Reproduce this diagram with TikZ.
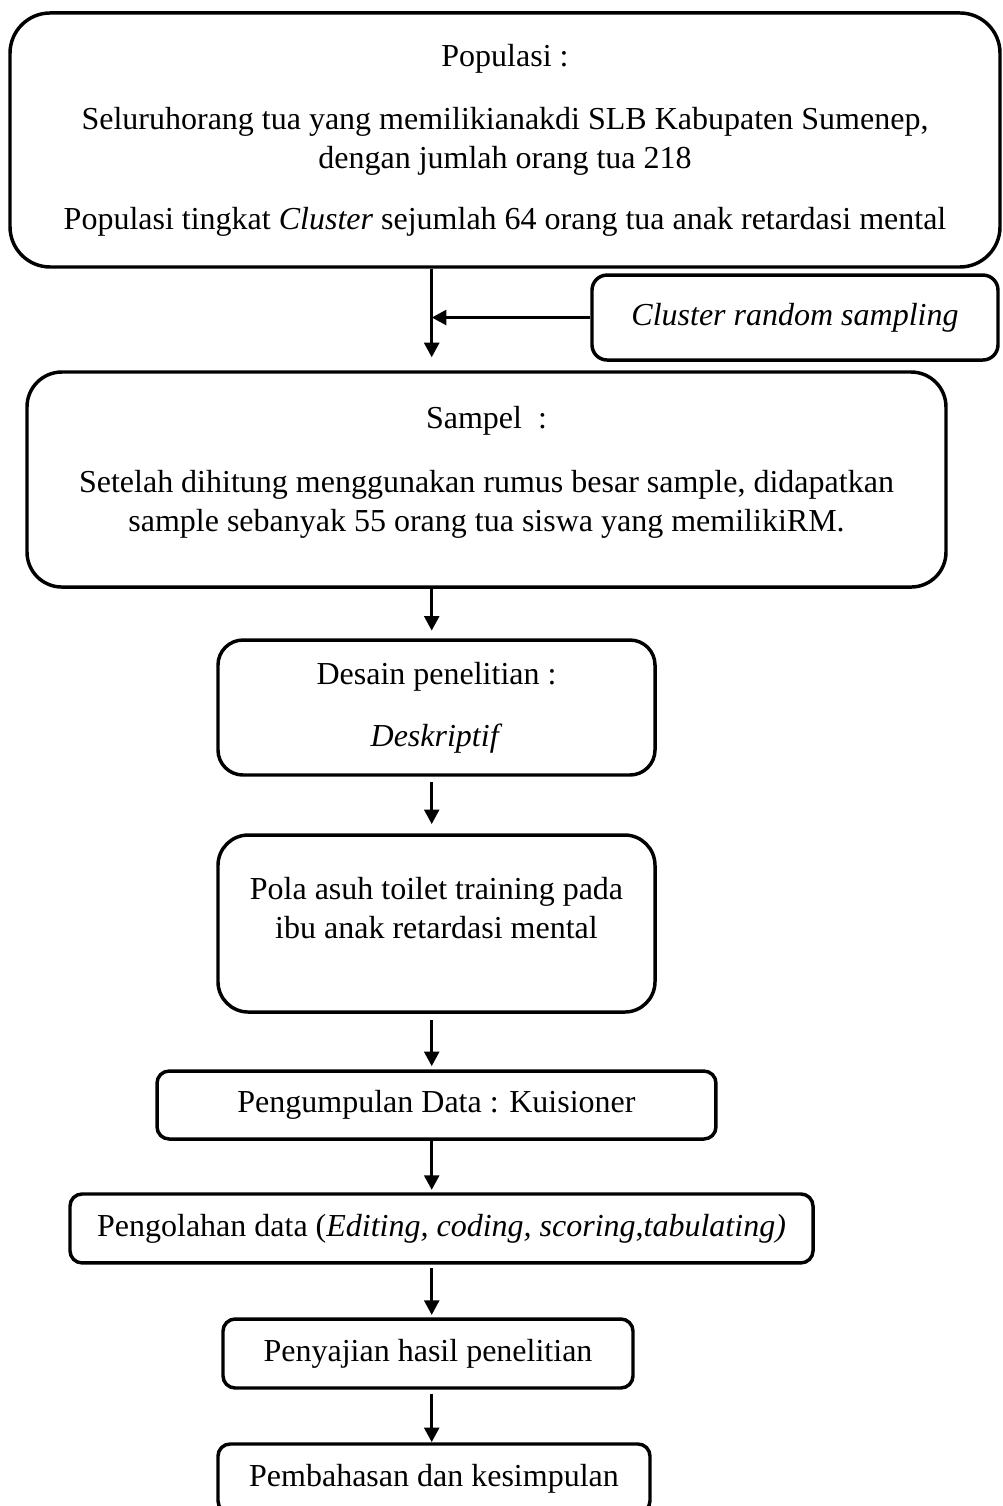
\documentclass[tikz,border=0pt]{standalone}
\usepackage{fontspec}
\setmainfont{Liberation Serif}
\usepackage{tikz}
\usetikzlibrary{arrows.meta, positioning}

\tikzset{
    box/.style={draw, line width=1.3pt, align=center, inner sep=0pt,
        font=\fontsize{12}{14.6}\selectfont},
    arr/.style={-{Triangle[length=5.5pt, width=5.5pt]}, line width=1.3pt}
}

\begin{document}
\begin{tikzpicture}
        % Page frame
        \clip (0,0) rectangle (13.219,-19.849);

        % Boxes
        \node[box, rounded corners=0.53cm, minimum width=13.048cm, minimum height=3.348cm] (pop) at (6.656,-1.845)
            {Populasi :\\[9pt]
             Seluruhorang tua yang memilikianakdi SLB Kabupaten Sumenep,\\
             dengan jumlah orang tua 218\\[8.3pt]
             Populasi tingkat \textit{Cluster} sejumlah 64 orang tua anak retardasi mental};
        \node[box, rounded corners=0.2cm, minimum width=5.351cm, minimum height=1.12cm] (clust) at (10.478,-4.185)
            {\textit{Cluster random sampling}};
        \node[box, rounded corners=0.46cm, minimum width=12.112cm, minimum height=2.834cm, text depth=8.3pt] (sampel) at (6.412,-6.32)
            {Sampel~ :\\[9.4pt]
             Setelah dihitung menggunakan rumus besar sample, didapatkan\\
             sample sebanyak 55 orang tua siswa yang memilikiRM.};
        \node[box, rounded corners=0.33cm, minimum width=5.76cm, minimum height=1.779cm] (desain) at (5.753,-9.325)
            {Desain penelitian :\\[8.6pt] \textit{Deskriptif}};
        \node[box, rounded corners=0.4cm, minimum width=5.76cm, minimum height=2.333cm, text depth=12pt] (pola) at (5.753,-12.172)
            {Pola asuh toilet training pada\\ ibu anak retardasi mental};
        \node[box, rounded corners=0.16cm, minimum width=7.367cm, minimum height=0.896cm] (kumpul) at (5.753,-14.564)
            {Pengumpulan Data : Kuisioner};
        \node[box, rounded corners=0.16cm, minimum width=9.793cm, minimum height=0.909cm] (olah) at (5.819,-16.191)
            {Pengolahan data (\textit{Editing, coding, scoring},\textit{tabulating)}};
        \node[box, rounded corners=0.16cm, minimum width=5.404cm, minimum height=0.909cm] (saji) at (5.641,-17.839)
            {Penyajian hasil penelitian};
        \node[box, rounded corners=0.16cm, minimum width=5.694cm, minimum height=0.909cm] (bahas) at (5.72,-19.486)
            {Pembahasan dan kesimpulan};

        % Arrows along the main axis
        \coordinate (axis) at (5.69,0);
        \draw[arr, shorten >=0.17cm] (pop.south -| axis) -- (sampel.north -| axis);
        \draw[arr] (clust.west) -- (clust.west -| axis);
        \draw[arr, shorten >=0.1cm] (sampel.south -| axis) -- (desain.north -| axis);
        \draw[arr, shorten <=0.07cm, shorten >=0.12cm] (desain.south -| axis) -- (pola.north -| axis);
        \draw[arr, shorten <=0.08cm, shorten >=0.04cm] (pola.south -| axis) -- (kumpul.north -| axis);
        \draw[arr, shorten >=0.03cm] (kumpul.south -| axis) -- (olah.north -| axis);
        \draw[arr, shorten <=0.05cm, shorten >=0.03cm] (olah.south -| axis) -- (saji.north -| axis);
        \draw[arr, shorten <=0.05cm] (saji.south -| axis) -- (bahas.north -| axis);
\end{tikzpicture}
\end{document}
